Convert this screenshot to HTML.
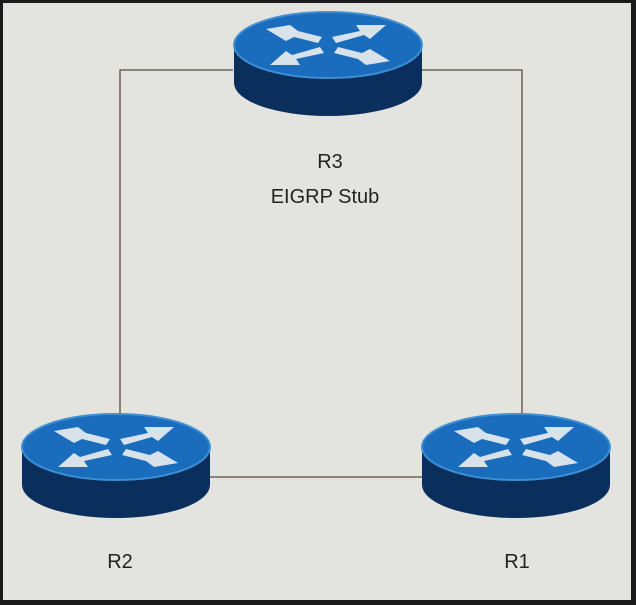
<!DOCTYPE html>
<html><head><style>
html,body{margin:0;padding:0;background:#1a1a1a;}
svg{display:block;}
text{font-family:"Liberation Sans",sans-serif;fill:#222;}
</style></head><body>
<svg width="636" height="605" viewBox="0 0 636 605" xmlns="http://www.w3.org/2000/svg">
<defs>
<g id="rt">
<path d="M-94,0 L-94,38 A94,33 0 0 0 94,38 L94,0 Z" fill="#0b2f5c"/>
<ellipse cx="0" cy="0" rx="94" ry="33" fill="#1a6cbc"/>
<ellipse cx="0" cy="0" rx="94" ry="33" fill="none" stroke="#3d8fd4" stroke-width="2"/>
<g fill="#d8e2ea">
<polygon points="-62,-16 -38,-20 -30,-14 -6,-8 -10,-2 -34,-8 -42,-4"/>
<polygon points="62,16 38,20 30,14 6,8 10,2 34,8 42,4"/>
<polygon points="58,-20 42,-6 36,-10 8,-2 4,-8 32,-14 28,-20"/>
<polygon points="-58,20 -42,6 -36,10 -8,2 -4,8 -32,14 -28,20"/>
</g>
</g>
</defs>
<rect x="0" y="0" width="636" height="605" fill="#1a1a1a"/>
<rect x="3" y="3" width="628" height="597" fill="#e3e3e0"/>
<g stroke="#5a4a44" stroke-width="1.3" fill="none">
<polyline points="233,70 120,70 120,477 422,477"/>
<polyline points="420,70 522,70 522,440"/>
</g>
<use href="#rt" x="328" y="45"/>
<use href="#rt" x="116" y="447"/>
<use href="#rt" x="516" y="447"/>
<text x="330" y="168" font-size="20" text-anchor="middle">R3</text>
<text x="325" y="203" font-size="20" text-anchor="middle">EIGRP Stub</text>
<text x="120" y="568" font-size="20" text-anchor="middle">R2</text>
<text x="517" y="568" font-size="20" text-anchor="middle">R1</text>
</svg>
</body></html>
